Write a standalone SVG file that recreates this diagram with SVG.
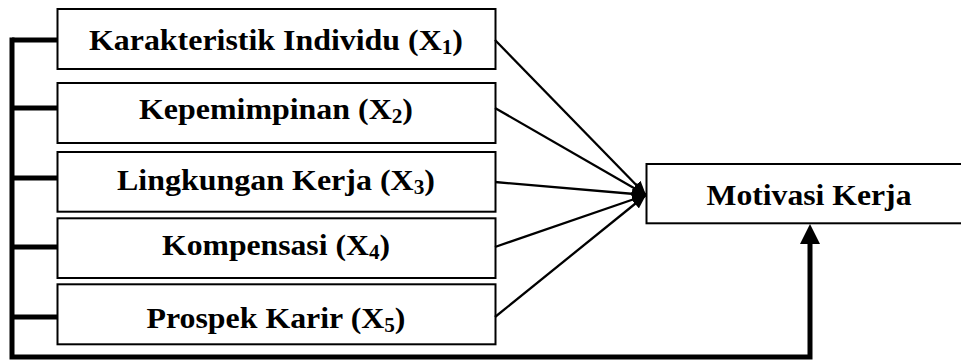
<svg xmlns="http://www.w3.org/2000/svg" width="961" height="360" viewBox="0 0 961 360">
<style>
.box{fill:#fff;stroke:#000;stroke-width:2}
.lbl{font-family:"Liberation Serif","Times New Roman",serif;font-weight:bold;font-size:30px;fill:#000;text-anchor:middle}
.sub{font-size:20px}
.thin{stroke:#000;stroke-width:2.3;fill:none}
.thick{stroke:#000;stroke-width:5;fill:none}
</style>
<defs>
<marker id="ah" markerUnits="userSpaceOnUse" viewBox="0 0 14 12" refX="14" refY="6" markerWidth="14" markerHeight="12" orient="auto">
<path d="M0,0 L14,6 L0,12 Z" fill="#000"/>
</marker>
</defs>
<rect width="961" height="360" fill="#fff"/>
<g id="n1"><rect class="box" x="57.5" y="9" width="438" height="60"/><text class="lbl" x="276" y="49.5" textLength="374" lengthAdjust="spacingAndGlyphs">Karakteristik Individu (X<tspan class="sub" dy="4">1</tspan><tspan dy="-4">)</tspan></text></g>
<g id="n2"><rect class="box" x="57.5" y="83" width="438" height="60"/><text class="lbl" x="276" y="119.3" textLength="274" lengthAdjust="spacingAndGlyphs">Kepemimpinan (X<tspan class="sub" dy="4">2</tspan><tspan dy="-4">)</tspan></text></g>
<g id="n3"><rect class="box" x="57.5" y="152" width="438" height="59.7"/><text class="lbl" x="276" y="189.5" textLength="318" lengthAdjust="spacingAndGlyphs">Lingkungan Kerja (X<tspan class="sub" dy="4">3</tspan><tspan dy="-4">)</tspan></text></g>
<g id="n4"><rect class="box" x="57.5" y="218.3" width="438" height="59.7"/><text class="lbl" x="276" y="254.5" textLength="228" lengthAdjust="spacingAndGlyphs">Kompensasi (X<tspan class="sub" dy="4">4</tspan><tspan dy="-4">)</tspan></text></g>
<g id="n5"><rect class="box" x="57.5" y="284.3" width="438" height="60"/><text class="lbl" x="276" y="328" textLength="259" lengthAdjust="spacingAndGlyphs">Prospek Karir (X<tspan class="sub" dy="4">5</tspan><tspan dy="-4">)</tspan></text></g>
<g id="y"><rect class="box" x="646.5" y="164" width="326" height="59.3"/><text class="lbl" x="809" y="204.5" textLength="205" lengthAdjust="spacingAndGlyphs">Motivasi Kerja</text></g>
<g id="connectors">
<line class="thin" x1="495" y1="40" x2="646" y2="195" marker-end="url(#ah)"/>
<line class="thin" x1="495" y1="108" x2="646" y2="195" marker-end="url(#ah)"/>
<line class="thin" x1="495" y1="182" x2="646" y2="195" marker-end="url(#ah)"/>
<line class="thin" x1="495" y1="247" x2="646" y2="195" marker-end="url(#ah)"/>
<line class="thin" x1="495" y1="317" x2="646" y2="195" marker-end="url(#ah)"/>
<path class="thick" d="M12,37.5 V357 H810 V243"/>
<polygon points="800,244 820,244 810,224" fill="#000"/>
<line class="thick" x1="12" y1="40" x2="57.5" y2="40"/>
<line class="thick" x1="12" y1="108" x2="57.5" y2="108"/>
<line class="thick" x1="12" y1="178" x2="57.5" y2="178"/>
<line class="thick" x1="12" y1="247" x2="57.5" y2="247"/>
<line class="thick" x1="12" y1="317" x2="57.5" y2="317"/>
</g>
</svg>
